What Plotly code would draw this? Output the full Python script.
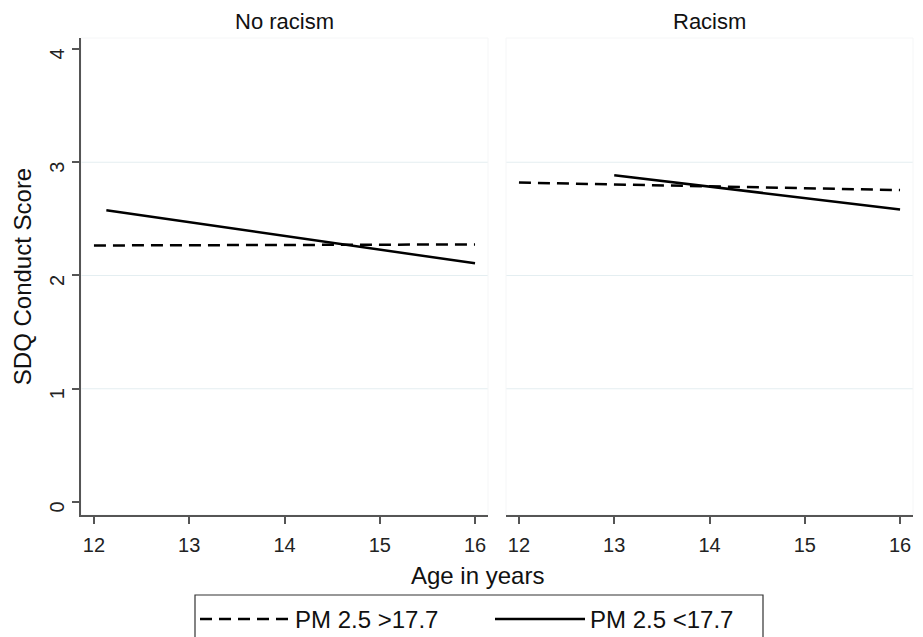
import plotly.graph_objects as go

# panels and series
panels = ["No racism", "Racism"]
series = ["PM 2.5 >17.7", "PM 2.5 <17.7"]

# No racism panel
age_high_norac = [12, 16]
score_high_norac = [2.265, 2.274]
age_low_norac = [12.13, 16]
score_low_norac = [2.577, 2.107]

# Racism panel
age_high_rac = [12, 16]
score_high_rac = [2.82, 2.754]
age_low_rac = [13, 16]
score_low_rac = [2.886, 2.583]

x_ticks = [12, 13, 14, 15, 16]
y_ticks = [0, 1, 2, 3, 4]
grid_vals = [1, 2, 3]

W, H = 923, 637
FONT = "Arial, Liberation Sans, sans-serif"
dash_style = "12px,7px"

fig = go.Figure()

# 左パネル
fig.add_trace(go.Scatter(x=age_high_norac, y=score_high_norac, mode="lines", name=series[0],
                         line=dict(color="black", width=2.5, dash=dash_style),
                         xaxis="x", yaxis="y", legendrank=1))
fig.add_trace(go.Scatter(x=age_low_norac, y=score_low_norac, mode="lines", name=series[1],
                         line=dict(color="black", width=2.5),
                         xaxis="x", yaxis="y", legendrank=2))
# 右パネル
fig.add_trace(go.Scatter(x=age_high_rac, y=score_high_rac, mode="lines", name=series[0],
                         line=dict(color="black", width=2.5, dash=dash_style),
                         xaxis="x2", yaxis="y2", showlegend=False))
fig.add_trace(go.Scatter(x=age_low_rac, y=score_low_rac, mode="lines", name=series[1],
                         line=dict(color="black", width=2.5),
                         xaxis="x2", yaxis="y2", showlegend=False))

x_range = [11.864, 16.136]
y_range = [-0.115, 4.097]
y_dom = [1 - 515 / H, 1 - 38 / H]

xaxis_common = dict(range=x_range, tickvals=x_ticks, showgrid=False, zeroline=False,
                    showline=True, linecolor="#555", linewidth=1.5,
                    ticks="outside", ticklen=7, tickwidth=1.5, tickcolor="#555",
                    tickfont=dict(family=FONT, size=20, color="#222"),
                    ticklabelstandoff=4)

fig.update_layout(
    width=W, height=H,
    margin=dict(l=0, r=0, t=0, b=0, autoexpand=False),
    paper_bgcolor="white", plot_bgcolor="white",
    font=dict(family=FONT, color="#111"),
    xaxis=dict(domain=[81 / W, 488 / W], anchor="y", **xaxis_common),
    xaxis2=dict(domain=[506 / W, 913 / W], anchor="y2", **xaxis_common),
    yaxis=dict(domain=y_dom, anchor="x", range=y_range, tickvals=y_ticks,
               showgrid=False, zeroline=False, showline=True, linecolor="#555", linewidth=1.5,
               ticks="outside", ticklen=7, tickwidth=1.5, tickcolor="#555",
               tickangle=-90, tickfont=dict(family=FONT, size=20, color="#222"),
               ticklabelstandoff=0, ticklabelshift=8,
               title=dict(text="SDQ Conduct Score", font=dict(family=FONT, size=24, color="#111"),
                          standoff=8)),
    yaxis2=dict(domain=y_dom, anchor="x2", matches="y", range=y_range,
                showgrid=False, zeroline=False, showline=False, showticklabels=False, ticks=""),
    legend=dict(orientation="h", x=195 / W, xanchor="left", y=1 - 597 / H, yanchor="top",
                borderwidth=0, bgcolor="rgba(0,0,0,0)",
                font=dict(family=FONT, size=24, color="#111"),
                itemwidth=90, entrywidth=190),
)

# gridlines (1,2,3 only) + faint panel frame
shapes = []
for xr, yr in [("x domain", "y"), ("x2 domain", "y2")]:
    for g in grid_vals:
        shapes.append(dict(type="line", xref=xr, yref=yr, x0=0, x1=1, y0=g, y1=g,
                           line=dict(color="#e4eef1", width=1.2), layer="below"))
    shapes.append(dict(type="rect", xref=xr, yref=yr + " domain", x0=0, x1=1, y0=0, y1=1,
                       line=dict(color="#f5f6f7", width=1), layer="below"))
# 凡例の枠
shapes.append(dict(type="rect", xref="paper", yref="paper", x0=195 / W, x1=763 / W,
                   y0=-0.05, y1=1 - 595 / H, line=dict(color="#333", width=1.2), layer="below"))
fig.update_layout(shapes=shapes)

# panel titles and x title
annotations = []
for i, p in enumerate(panels):
    xr = "x domain" if i == 0 else "x2 domain"
    annotations.append(dict(text=p, xref=xr, x=0.5, yref="paper", y=1 - 21.5 / H,
                            xanchor="center", yanchor="middle", showarrow=False,
                            font=dict(family=FONT, size=22, color="#111")))
annotations.append(dict(text="Age in years", xref="paper", x=478 / W, yref="paper", y=1 - 575 / H,
                        xanchor="center", yanchor="middle", showarrow=False,
                        font=dict(family=FONT, size=24, color="#111")))
fig.update_layout(annotations=annotations)

# bodyの余白を消す
fig.write_html("out.html", config={"displayModeBar": False},
               post_script="document.body.style.margin='0';")
